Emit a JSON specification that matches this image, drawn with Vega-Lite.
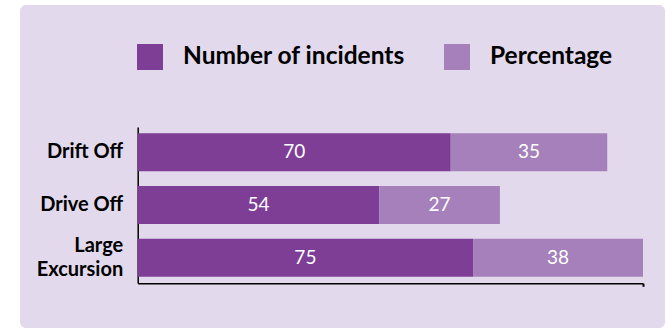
{
  "$schema": "https://vega.github.io/schema/vega-lite/v6.json",
  "width": 645,
  "height": 323,
  "autosize": {"type": "none"},
  "padding": {"left": 20, "top": 5, "right": 0, "bottom": 0},
  "background": "white",
  "config": {
    "view": {"fill": "#e2d9ec", "stroke": null, "cornerRadius": 6},
    "font": "Lato"
  },
  "data": {
    "values": [
      {"type": "Drift Off", "series": "Number of incidents", "value": 70},
      {"type": "Drift Off", "series": "Percentage", "value": 35},
      {"type": "Drive Off", "series": "Number of incidents", "value": 54},
      {"type": "Drive Off", "series": "Percentage", "value": 27},
      {"type": "Large Excursion", "series": "Number of incidents", "value": 75},
      {"type": "Large Excursion", "series": "Percentage", "value": 38}
    ]
  },
  "encoding": {
    "y": {
      "field": "type",
      "type": "nominal",
      "sort": ["Drift Off", "Drive Off", "Large Excursion"],
      "scale": {"range": [122, 278], "paddingInner": 0.28, "paddingOuter": 0.12},
      "axis": {
        "title": null,
        "domainColor": "black",
        "domainWidth": 1.5,
        "ticks": false,
        "labelPadding": 15,
        "labelFontSize": 20,
        "labelFontWeight": "bold",
        "labelColor": "black",
        "labelFont": "Lato",
        "offset": -117.7,
        "labelExpr": "datum.value == 'Large Excursion' ? ['Large', 'Excursion'] : datum.label",
        "labelLineHeight": 24.5,
        "labelOffset": {"condition": {"test": "datum.value == 'Large Excursion'", "value": -12}, "value": 0},
        "labelLimit": 200
      }
    },
    "order": {"field": "series", "type": "nominal", "sort": "ascending"}
  },
  "layer": [
    {
      "mark": {"type": "bar"},
      "encoding": {
        "x": {
          "field": "value",
          "type": "quantitative",
          "stack": "zero",
          "scale": {"domain": [0, 113], "range": [117.7, 623], "nice": false, "zero": true},
          "axis": {
            "title": null,
            "labels": false,
            "grid": false,
            "domainColor": "black",
            "domainWidth": 1.5,
            "values": [113],
            "tickColor": "black",
            "tickSize": 3,
            "tickWidth": 2,
            "offset": -44.7
          }
        },
        "color": {
          "field": "series",
          "type": "nominal",
          "scale": {"domain": ["Number of incidents", "Percentage"], "range": ["#7e3e96", "#a680ba"]},
          "legend": {
            "orient": "none",
            "legendX": 117,
            "legendY": 39,
            "direction": "horizontal",
            "title": null,
            "symbolType": "square",
            "symbolSize": 676,
            "symbolStrokeWidth": 0,
            "symbolOpacity": 1,
            "labelFontSize": 24.5,
            "labelFontWeight": "bold",
            "labelFont": "Lato",
            "labelColor": "black",
            "labelOffset": 20,
            "columnPadding": 38,
            "labelLimit": 400,
            "encode": {
              "symbols": {
                "update": {
                  "fill": {"signal": "datum.value == 'Percentage' ? '#8f5fa7' : '#7e3e96'"}
                }
              }
            }
          }
        }
      }
    },
    {
      "mark": {"type": "text", "color": "white", "fontSize": 19, "font": "Lato"},
      "encoding": {
        "x": {"field": "value", "type": "quantitative", "stack": "zero", "bandPosition": 0.5},
        "detail": {"field": "series", "type": "nominal"},
        "text": {"field": "value", "type": "quantitative"}
      }
    }
  ]
}
